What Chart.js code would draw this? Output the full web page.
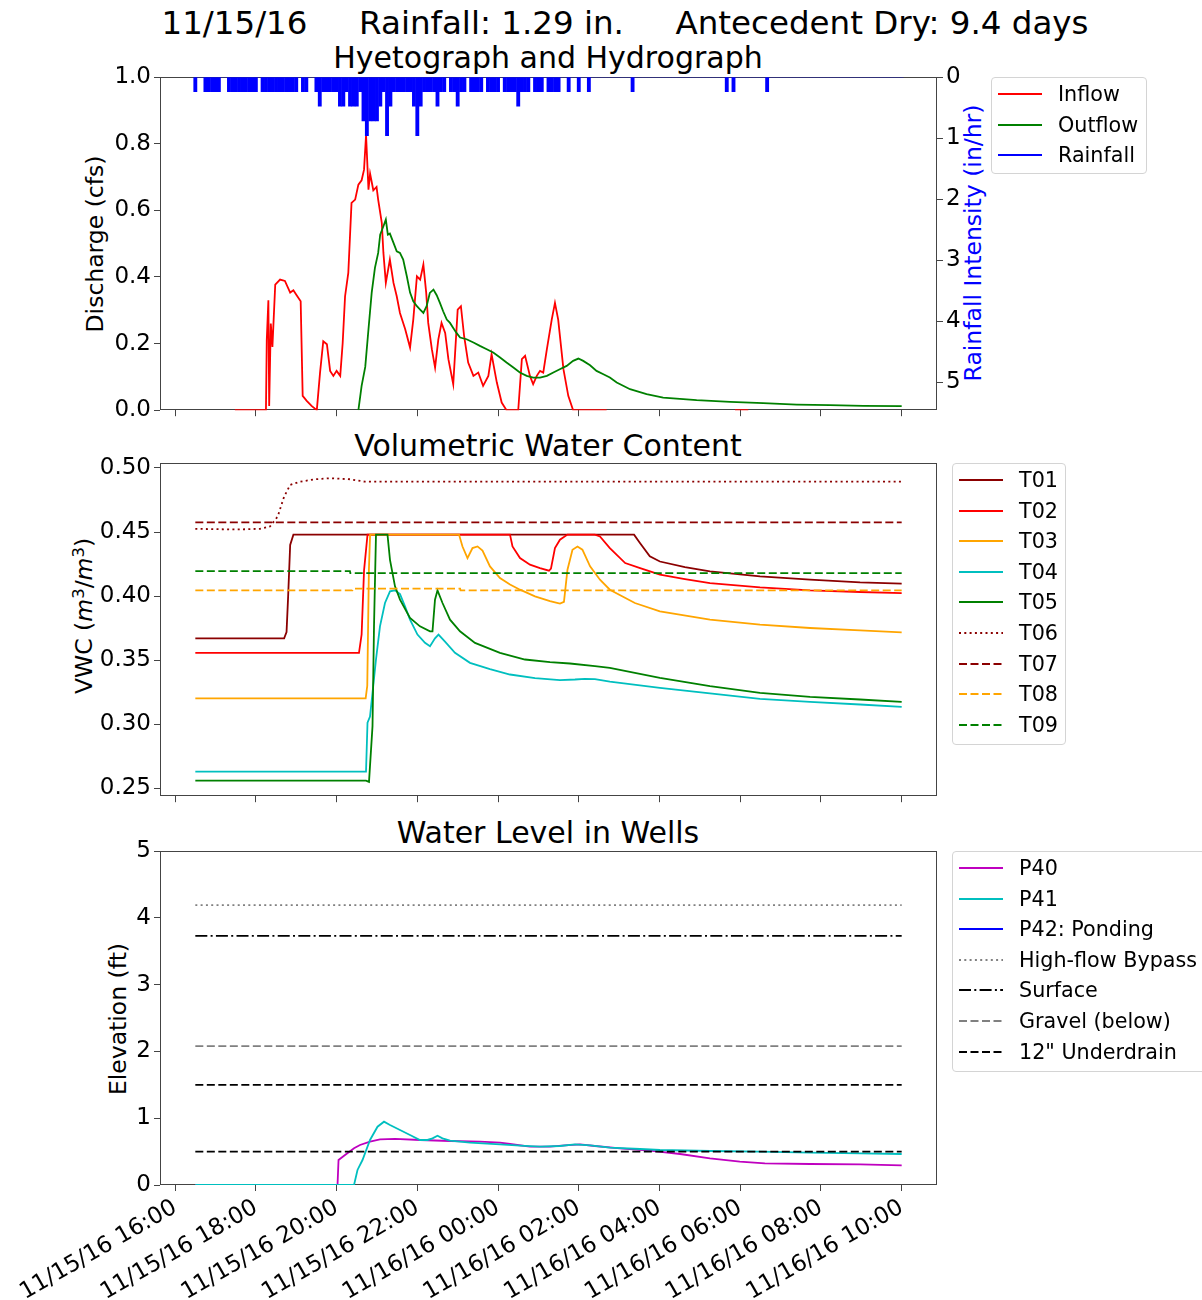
<!DOCTYPE html>
<html>
<head>
<meta charset="utf-8">
<title>Hyetograph, VWC and well levels</title>
<script src="https://cdn.jsdelivr.net/npm/chart.js@4.4.1/dist/chart.umd.min.js"></script>
<style>
    body { margin: 0; background: #fff; font-family: "DejaVu Sans", sans-serif; }
    #page { position: relative; width: 1202px; height: 1300px; overflow: hidden; }
    canvas { position: absolute; left: 0; }
    .txt { position: absolute; white-space: pre; color: #000; line-height: 1; }
    .center { transform: translate(-50%, -50%); }
    .vert { transform: translate(-50%, -50%) rotate(-90deg); }
    .legend { position: absolute; box-sizing: border-box; border: 1px solid #d4d4d4; border-radius: 4px; background: rgba(255, 255, 255, 0.8); }
    .legend svg { position: absolute; left: 6px; }
    .legend span { position: absolute; left: 66px; font-size: 20.7px; line-height: 1; white-space: pre; transform: translateY(-50%); }
    sup { font-size: 0.7em; line-height: 0; vertical-align: 0.5em; }
</style>
</head>
<body>
<div id="page">
    <div class="txt center" style="left:625px;top:23px;font-size:32.5px">11/15/16     Rainfall: 1.29 in.     Antecedent Dry: 9.4 days</div>
    <div class="txt center" style="left:548px;top:58px;font-size:30px">Hyetograph and Hydrograph</div>
    <div class="txt center" style="left:548px;top:446px;font-size:30px">Volumetric Water Content</div>
    <div class="txt center" style="left:548px;top:833px;font-size:30px">Water Level in Wells</div>

    <div class="txt vert" style="left:96px;top:244px;font-size:23.5px">Discharge (cfs)</div>
    <div class="txt vert" style="left:974px;top:243px;font-size:23.5px;color:#0000ff">Rainfall Intensity (in/hr)</div>
    <div class="txt vert" style="left:85px;top:616px;font-size:23.5px">VWC (<i>m</i><sup>3</sup>/<i>m</i><sup>3</sup>)</div>
    <div class="txt vert" style="left:119px;top:1019px;font-size:23.5px">Elevation (ft)</div>

    <canvas id="hydroChart" width="1202" height="370" style="top:57px"></canvas>
    <canvas id="vwcChart" width="1202" height="370" style="top:443px"></canvas>
    <canvas id="wellChart" width="1202" height="469" style="top:831px"></canvas>
</div>

<script>
// x values are hours after 11/15/16 16:00
const xTickHours = [0, 2, 4, 6, 8, 10, 12, 14, 16, 18];
const xTickLabels = [
    "11/15/16 16:00", "11/15/16 18:00", "11/15/16 20:00", "11/15/16 22:00", "11/16/16 00:00",
    "11/16/16 02:00", "11/16/16 04:00", "11/16/16 06:00", "11/16/16 08:00", "11/16/16 10:00",
];

// Rainfall intensity (in/hr), 5 minute values starting 16:30
const rainStart = 0.5;
const rainStep = 5 / 60;
const rainRate = [
    .24, 0, 0, .24, .24, .24, .24, .24, 0, 0, .24, .24,
    .24, .24, .24, .24, .24, .24, .24, 0, .24, .24, .24, .24,
    .24, .24, .24, .24, .24, .24, .24, 0, .24, .24, 0, 0,
    .24, .48, .24, .24, .24, .24, .24, .48, .48, .24, .48, .48,
    .48, .24, .72, .96, .72, .72, .72, .48, .24, .96, .48, .24,
    .24, .24, .24, .24, .24, .48, .96, .48, .24, .24, .24, .24,
    .48, .24, .24, 0, .24, .24, .48, .24, .24, 0, .24, .24,
    .24, .24, 0, .24, .24, .24, .24, 0, .24, .24, .24, .24,
    .48, .24, .24, .24, 0, .24, .24, .24, 0, .24, .24, .24,
    .24, 0, 0, .24, 0, 0, .24, 0, 0, .24, 0, 0,
    0, 0, 0, 0, 0, 0, 0, 0, 0, 0, .24, 0,
    0, 0, 0, 0, 0, 0, 0, 0, 0, 0, 0, 0,
    0, 0, 0, 0, 0, 0, 0, 0, 0, 0, 0, 0,
    0, 0, .24, 0, .24, 0, 0, 0, 0, 0, 0, 0,
    0, 0, .24, 0, 0, 0, 0, 0, 0, 0, 0, 0,
    0, 0, 0, 0, 0, 0, 0, 0, 0, 0, 0, 0,
    0, 0, 0, 0, 0, 0, 0, 0, 0, 0, 0, 0,
    0, 0, 0, 0, 0, 0, 0,
];

// Discharge (cfs)
const inflowHours = [
    1.48, 2.25, 2.27, 2.31, 2.33, 2.37, 2.41, 2.48, 2.60, 2.72, 2.85, 2.93, 3.01, 3.11, 3.16, 3.26,
    3.38, 3.51, 3.59, 3.67, 3.76, 3.84, 3.92, 4.00, 4.09, 4.15, 4.21, 4.29, 4.37, 4.46, 4.54, 4.62,
    4.68, 4.73, 4.79, 4.83, 4.91, 4.99, 5.03, 5.12, 5.16, 5.22, 5.32, 5.41, 5.49, 5.57, 5.70, 5.82,
    5.90, 5.99, 6.07, 6.15, 6.22, 6.27, 6.36, 6.44, 6.52, 6.60, 6.69, 6.77, 6.89, 7.00, 7.08, 7.16,
    7.26, 7.39, 7.51, 7.63, 7.76, 7.84, 7.97, 8.09, 8.21, 8.50, 8.59, 8.67, 8.79, 8.87, 8.96, 9.04,
    9.12, 9.21, 9.33, 9.41, 9.49, 9.62, 9.74, 9.86, 10.69, 12.0, 13.87, 14.20,
];
const inflowCfs = [
    0, 0, 0.21, 0.33, 0.013, 0.26, 0.19, 0.377, 0.392, 0.388, 0.353, 0.36, 0.345, 0.327, 0.043, 0.028,
    0.013, 0, 0.113, 0.207, 0.198, 0.118, 0.103, 0.118, 0.103, 0.2, 0.342, 0.412, 0.622, 0.632, 0.677, 0.69,
    0.722, 0.826, 0.662, 0.71, 0.66, 0.67, 0.632, 0.562, 0.472, 0.382, 0.452, 0.382, 0.342, 0.292, 0.243, 0.188,
    0.272, 0.402, 0.392, 0.437, 0.353, 0.262, 0.183, 0.128, 0.212, 0.262, 0.232, 0.153, 0.078, 0.302, 0.312, 0.222,
    0.143, 0.103, 0.113, 0.073, 0.103, 0.168, 0.083, 0.023, 0, 0, 0.153, 0.163, 0.103, 0.078, 0.103, 0.118,
    0.113, 0.183, 0.272, 0.322, 0.272, 0.123, 0.043, 0, 0, null, 0, 0,
];
const outflowHours = [
    4.54, 4.62, 4.71, 4.79, 4.87, 4.95, 5.03, 5.08, 5.16, 5.22, 5.27, 5.32, 5.41, 5.49, 5.57, 5.65,
    5.74, 5.82, 5.90, 5.99, 6.07, 6.15, 6.23, 6.31, 6.40, 6.48, 6.56, 6.64, 6.73, 6.81, 6.89, 6.97,
    7.06, 7.22, 7.39, 7.55, 7.72, 7.88, 8.05, 8.21, 8.38, 8.54, 8.71, 8.87, 9.04, 9.21, 9.37, 9.53,
    9.70, 9.86, 9.99, 10.11, 10.28, 10.44, 10.61, 10.77, 10.94, 11.27, 11.68, 12.09, 12.92, 13.75, 14.57, 15.40,
    16.22, 17.05, 18.0,
];
const outflowCfs = [
    0, 0.073, 0.13, 0.243, 0.353, 0.427, 0.472, 0.527, 0.552, 0.572, 0.527, 0.53, 0.502, 0.477, 0.472, 0.452,
    0.402, 0.353, 0.327, 0.312, 0.302, 0.292, 0.312, 0.352, 0.362, 0.345, 0.322, 0.297, 0.272, 0.262, 0.247, 0.232,
    0.218, 0.213, 0.203, 0.193, 0.183, 0.173, 0.158, 0.143, 0.128, 0.113, 0.103, 0.098, 0.098, 0.103, 0.113, 0.123,
    0.133, 0.148, 0.155, 0.148, 0.135, 0.118, 0.108, 0.098, 0.083, 0.063, 0.048, 0.038, 0.03, 0.025, 0.021, 0.017,
    0.015, 0.013, 0.012,
];

// Volumetric water content (m3/m3)
const t01Hours = [0.5, 2.70, 2.76, 2.80, 2.85, 2.93, 11.37, 11.52, 11.76, 12.01, 12.63, 13.25, 14.49, 15.73, 16.97, 18];
const t01Vwc = [0.367, 0.367, 0.372, 0.40, 0.44, 0.448, 0.448, 0.4413, 0.431, 0.427, 0.4227, 0.4193, 0.4154, 0.4128, 0.4107, 0.4097];
const t02Hours = [0.5, 4.555, 4.62, 4.68, 4.766, 8.296, 8.358, 8.544, 8.791, 9.039, 9.262, 9.311, 9.41, 9.534, 9.72,
    10.4, 10.525, 10.77, 11.15, 11.52, 12.01, 12.63, 13.25, 14.49, 15.73, 16.97, 18];
const t02Vwc = [0.3557, 0.3557, 0.37, 0.42, 0.448, 0.448, 0.4387, 0.4297, 0.4245, 0.4219, 0.4198, 0.4215, 0.4375, 0.444, 0.448,
    0.448, 0.4465, 0.4375, 0.4258, 0.4219, 0.4167, 0.4133, 0.4102, 0.4068, 0.4045, 0.4032, 0.4024];
const t03Hours = [0.5, 4.72, 4.76, 4.80, 4.83, 7.033, 7.119, 7.243, 7.367, 7.491, 7.615, 7.8, 8.048, 8.296, 8.544, 8.915,
    9.287, 9.534, 9.633, 9.72, 9.844, 9.968, 10.09, 10.28, 10.525, 10.77, 11.39, 12.01, 13.25, 14.49, 15.73, 16.97, 18];
const t03Vwc = [0.3201, 0.3201, 0.33, 0.42, 0.448, 0.448, 0.4387, 0.4297, 0.4375, 0.4388, 0.4355, 0.4232, 0.4141, 0.409, 0.405, 0.3998,
    0.396, 0.3941, 0.3955, 0.4206, 0.4362, 0.4387, 0.4362, 0.4232, 0.4128, 0.405, 0.3946, 0.3881, 0.3816, 0.3777, 0.3751, 0.3733, 0.3717];
const t04Hours = [0.5, 4.729, 4.766, 4.828, 4.89, 4.976, 5.075, 5.199, 5.323, 5.447, 5.571, 5.695, 5.819, 6.004, 6.19, 6.314,
    6.438, 6.525, 6.686, 6.933, 7.305, 7.8, 8.296, 8.915, 9.534, 9.906, 10.15, 10.4, 10.77, 12.01, 13.25, 14.49, 15.73, 16.97, 18];
const t04Vwc = [0.263, 0.263, 0.3012, 0.306, 0.3245, 0.3505, 0.3764, 0.3946, 0.4037, 0.4045, 0.4016, 0.392, 0.3816, 0.37, 0.3635, 0.3609,
    0.367, 0.370, 0.3645, 0.3557, 0.3479, 0.343, 0.3388, 0.336, 0.3344, 0.3349, 0.3354, 0.3352, 0.3333, 0.3284, 0.324, 0.3198, 0.3175, 0.3154, 0.3136];
const t05Hours = [0.5, 4.729, 4.803, 4.89, 4.927, 4.976, 5.261, 5.323, 5.447, 5.571, 5.819, 6.066, 6.314, 6.376, 6.438, 6.5,
    6.624, 6.81, 7.057, 7.429, 8.048, 8.667, 9.287, 9.782, 10.4, 10.77, 12.01, 13.25, 14.49, 15.73, 16.97, 18];
const t05Vwc = [0.256, 0.256, 0.255, 0.2985, 0.3764, 0.448, 0.448, 0.4283, 0.4076, 0.3972, 0.3829, 0.3764, 0.3725, 0.3725, 0.3972, 0.4045,
    0.3946, 0.3816, 0.3725, 0.3635, 0.3557, 0.3505, 0.3484, 0.3474, 0.3453, 0.344, 0.3362, 0.3297, 0.3245, 0.3214, 0.3193, 0.3175];
const t06Hours = [0.5, 1.5, 2.10, 2.35, 2.54, 2.70, 2.85, 3.09, 3.47, 3.84, 4.33, 4.70, 18];
const t06Vwc = [0.4525, 0.452, 0.4525, 0.4543, 0.4621, 0.4776, 0.4868, 0.4893, 0.4912, 0.492, 0.4912, 0.4893, 0.4893];
const t07Hours = [0.5, 18];
const t07Vwc = [0.4575, 0.4575];
const t08Hours = [0.5, 4.39, 4.40, 7.06, 7.07, 18];
const t08Vwc = [0.4045, 0.4045, 0.4058, 0.4058, 0.4045, 0.4045];
const t09Hours = [0.5, 4.33, 4.34, 18];
const t09Vwc = [0.4195, 0.4195, 0.418, 0.418];

// Well water levels (ft)
const p40Hours = [0.5, 4.023, 4.048, 4.209, 4.432, 4.58, 4.828, 5.075, 5.447, 6.066, 6.81, 7.553, 8.048, 8.296, 8.791, 9.287,
    9.658, 10.03, 10.4, 11.02, 11.76, 12.51, 13.25, 13.99, 14.61, 15.73, 16.97, 18];
const p40Ft = [0, 0, 0.374, 0.449, 0.549, 0.599, 0.649, 0.684, 0.689, 0.674, 0.659, 0.649, 0.634, 0.614, 0.574, 0.574,
    0.594, 0.609, 0.584, 0.549, 0.514, 0.464, 0.399, 0.349, 0.324, 0.314, 0.309, 0.294];
const p41Hours = [0.5, 4.432, 4.518, 4.642, 4.828, 5.014, 5.175, 5.323, 5.571, 5.819, 6.066, 6.252, 6.376, 6.5, 6.624, 6.81,
    7.305, 8.048, 8.544, 9.039, 9.534, 9.906, 10.28, 10.77, 11.52, 12.01, 13.25, 14.49, 15.73, 16.97, 18];
const p41Ft = [0, 0, 0.225, 0.374, 0.674, 0.873, 0.948, 0.898, 0.823, 0.749, 0.674, 0.674, 0.699, 0.738, 0.699, 0.664,
    0.634, 0.609, 0.589, 0.574, 0.584, 0.609, 0.594, 0.559, 0.539, 0.524, 0.509, 0.499, 0.484, 0.474, 0.464];
const p42Hours = [];
const p42Ft = [];
const refSpan = [0.5, 18];
const refLevels = [4.19, 3.73, 2.08, 1.50, 0.50];

const FONT = "'DejaVu Sans', sans-serif";
const AX = "#444";
const DASH = { solid: [], dashed: [8, 3.5], dotted: [2, 3.3], dashdot: [12, 3.3, 2, 3.3] };

function xy(hours, values) {
    return hours.map((h, i) => ({ x: h, y: values[i] }));
}

function line(label, hours, values, color, dash, order) {
    return {
        label: label,
        data: xy(hours, values),
        borderColor: color,
        backgroundColor: color,
        borderDash: DASH[dash],
        borderWidth: 1.8,
        pointRadius: 0,
        tension: 0,
        spanGaps: false,
        order: order,
    };
}

function timeAxis(withLabels, height) {
    return {
        type: "linear",
        position: "bottom",
        min: -0.375,
        max: 18.875,
        offset: false,
        afterBuildTicks: (s) => { s.ticks = xTickHours.map((v) => ({ value: v })); },
        afterFit: (s) => { s.height = height; s.paddingLeft = 0; s.paddingRight = 0; },
        grid: { offset: false, drawOnChartArea: false, drawTicks: true, tickLength: 6, color: AX },
        border: { display: false },
        ticks: withLabels
            ? {
                autoSkip: false, minRotation: 30, maxRotation: 30, padding: 3, color: "#000",
                font: { family: FONT, size: 23 },
                callback: (v) => xTickLabels[xTickHours.indexOf(v)],
            }
            : { display: false },
    };
}

function valueAxis(side, min, max, tickValues, digits, width, reverse) {
    return {
        type: "linear",
        position: side,
        min: min,
        max: max,
        reverse: !!reverse,
        afterBuildTicks: (s) => { s.ticks = tickValues.map((v) => ({ value: v })); },
        afterFit: (s) => { s.width = width; },
        grid: { drawOnChartArea: false, drawTicks: true, tickLength: 6, color: AX },
        border: { display: false },
        ticks: { padding: 3, color: "#000", font: { family: FONT, size: 23 }, callback: (v) => v.toFixed(digits) },
    };
}

// matplotlib style box round the plot area, under the data lines
const frame = {
    id: "frame",
    beforeDatasetsDraw(chart) {
        const a = chart.chartArea;
        const ctx = chart.ctx;
        ctx.save();
        ctx.strokeStyle = AX;
        ctx.lineWidth = 1;
        ctx.strokeRect(Math.round(a.left) + 0.5, Math.round(a.top) + 0.5,
            Math.round(a.right - a.left) - 1, Math.round(a.bottom - a.top) - 1);
        ctx.restore();
    },
};

function baseOptions(padRight) {
    return {
        responsive: false,
        animation: false,
        events: [],
        layout: { padding: { top: 20, right: padRight, bottom: 0, left: 0 } },
        plugins: { legend: { display: false }, tooltip: { enabled: false } },
    };
}

// Hyetograph and hydrograph
const rainHours = rainRate.map((r, i) => rainStart + i * rainStep);
new Chart(document.getElementById("hydroChart"), {
    type: "line",
    data: {
        datasets: [
            {
                label: "Rainfall",
                type: "bar",
                data: xy(rainHours, rainRate),
                yAxisID: "rain",
                backgroundColor: "#0000ff",
                barThickness: 3.2,
                grouped: false,
                order: 0,
            },
            Object.assign(line("Outflow", outflowHours, outflowCfs, "#008000", "solid", 1), { yAxisID: "y" }),
            Object.assign(line("Inflow", inflowHours, inflowCfs, "#ff0000", "solid", 2), { yAxisID: "y" }),
        ],
    },
    options: Object.assign(baseOptions(0), {
        scales: {
            x: timeAxis(false, 16),
            y: valueAxis("left", 0, 1, [0, 0.2, 0.4, 0.6, 0.8, 1.0], 1, 160),
            rain: valueAxis("right", 0, 5.46, [0, 1, 2, 3, 4, 5], 0, 265, true),
        },
    }),
    plugins: [frame],
});

// Volumetric water content
const vwcSeries = [
    ["T01", t01Hours, t01Vwc, "#8b0000", "solid"],
    ["T02", t02Hours, t02Vwc, "#ff0000", "solid"],
    ["T03", t03Hours, t03Vwc, "#ffa500", "solid"],
    ["T04", t04Hours, t04Vwc, "#00bfbf", "solid"],
    ["T05", t05Hours, t05Vwc, "#008000", "solid"],
    ["T06", t06Hours, t06Vwc, "#8b0000", "dotted"],
    ["T07", t07Hours, t07Vwc, "#8b0000", "dashed"],
    ["T08", t08Hours, t08Vwc, "#ffa500", "dashed"],
    ["T09", t09Hours, t09Vwc, "#008000", "dashed"],
];
new Chart(document.getElementById("vwcChart"), {
    type: "line",
    data: {
        datasets: vwcSeries.map((s, i) => line(s[0], s[1], s[2], s[3], s[4], vwcSeries.length - i)),
    },
    options: Object.assign(baseOptions(265), {
        scales: {
            x: timeAxis(false, 16),
            y: valueAxis("left", 0.2438, 0.5039, [0.25, 0.30, 0.35, 0.40, 0.45, 0.50], 2, 160),
        },
    }),
    plugins: [frame],
});

// Water level in wells
const refSeries = [
    ["High-flow Bypass", "#808080", "dotted"],
    ["Surface", "#000000", "dashdot"],
    ["Gravel (below)", "#808080", "dashed"],
    ["12\" Underdrain", "#000000", "dashed"],
    ["Underdrain (lower)", "#000000", "dashed"],
];
const wellSeries = [
    ["P40", p40Hours, p40Ft, "#bf00bf", "solid"],
    ["P41", p41Hours, p41Ft, "#00bfbf", "solid"],
    ["P42: Ponding", p42Hours, p42Ft, "#0000ff", "solid"],
].concat(refSeries.map((r, i) => [r[0], refSpan, [refLevels[i], refLevels[i]], r[1], r[2]]));
new Chart(document.getElementById("wellChart"), {
    type: "line",
    data: {
        datasets: wellSeries.map((s, i) => line(s[0], s[1], s[2], s[3], s[4], wellSeries.length - i)),
    },
    options: Object.assign(baseOptions(265), {
        scales: {
            x: timeAxis(true, 115),
            y: valueAxis("left", 0, 5, [0, 1, 2, 3, 4, 5], 0, 160),
        },
    }),
    plugins: [frame],
});

// Legends (matplotlib look, drawn as HTML beside each plot)
function legend(left, top, width, height, items) {
    const box = document.createElement("div");
    box.className = "legend";
    box.style.left = left + "px";
    box.style.top = top + "px";
    box.style.width = width + "px";
    box.style.height = height + "px";
    items.forEach((it, i) => {
        const y = 16 + i * 30.6;
        box.insertAdjacentHTML("beforeend",
            '<svg width="44" height="10" style="top:' + (y - 5) + 'px"><line x1="0" y1="5" x2="44" y2="5" stroke="' +
            it[1] + '" stroke-width="2" stroke-dasharray="' + (DASH[it[2]].join(" ") || "none") + '"/></svg>' +
            '<span style="top:' + y + 'px"></span>');
        box.lastChild.textContent = it[0];
    });
    document.getElementById("page").appendChild(box);
}

legend(991, 77, 156, 97, [["Inflow", "#ff0000", "solid"], ["Outflow", "#008000", "solid"], ["Rainfall", "#0000ff", "solid"]]);
legend(952, 463, 114, 282, vwcSeries.map((s) => [s[0], s[3], s[4]]));
legend(952, 851, 270, 221, wellSeries.slice(0, 7).map((s) => [s[0], s[3], s[4]]));
</script>
</body>
</html>
